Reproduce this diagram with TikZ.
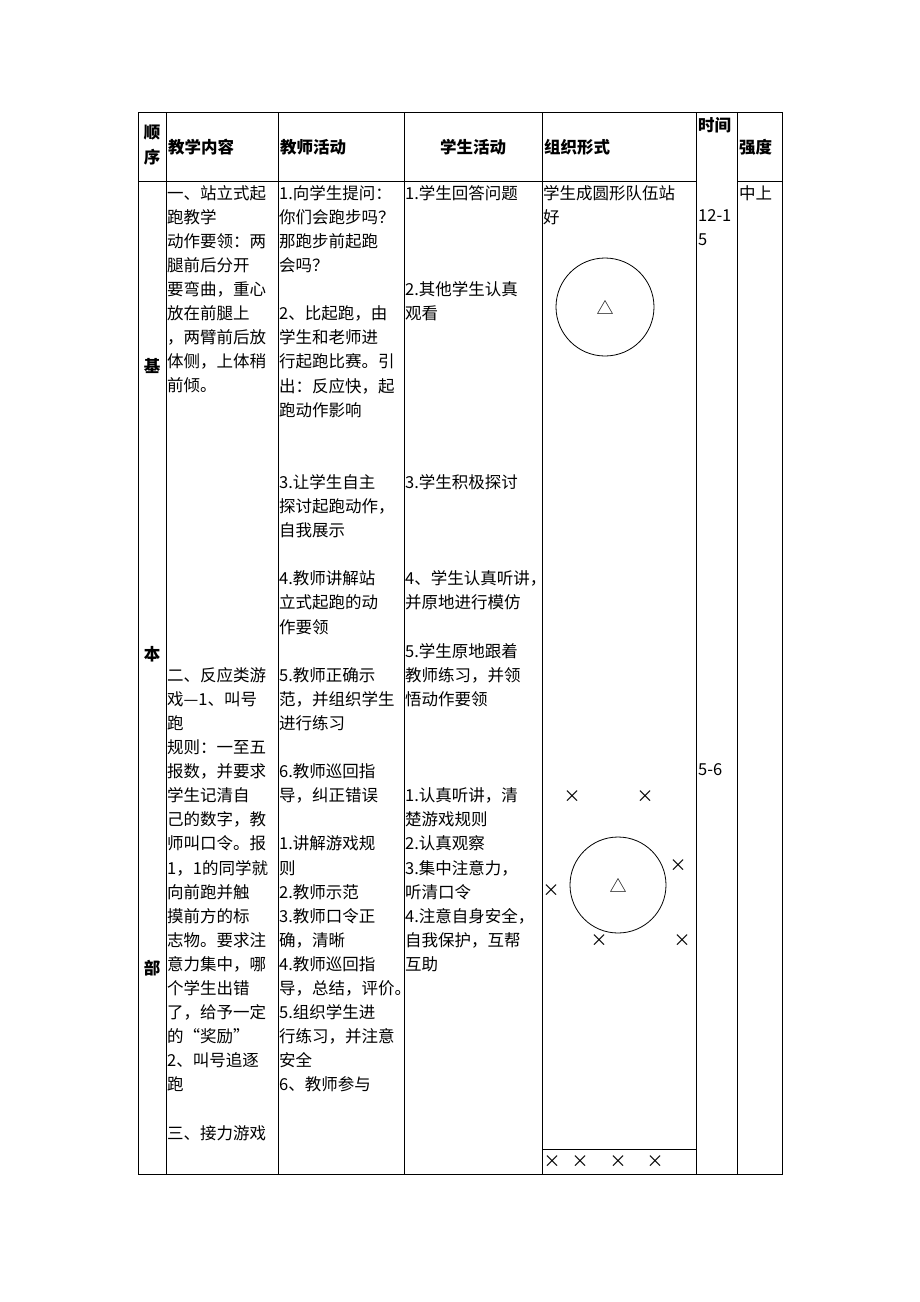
\documentclass[tikz,border=0pt]{standalone}
\usepackage{fontspec}
\setmainfont{Noto Sans CJK SC}
\tikzset{cell/.style={anchor=north west,inner sep=0pt,align=left,font=\fontsize{16.5}{24.1}\selectfont},
  head/.style={inner sep=0pt,font=\fontsize{16.5}{24.1}\selectfont\bfseries},
  grid line/.style={line width=1pt},
  mark x/.style={inner sep=0pt,font=\fontsize{17}{20}\selectfont},
}
\newcommand{\bl}{\mbox{}}
\begin{document}
\begin{tikzpicture}[x=1pt,y=-1pt]
\useasboundingbox (0,0) rectangle (920,1302);
% frame and columns
\draw[grid line] (138,112) rectangle (782,1174);
\foreach \cx in {166,278,404,542,696,737}
  \draw[grid line] (\cx,112) -- (\cx,1174);
\draw[grid line] (138,181) -- (696,181);
\draw[grid line] (737,181) -- (782,181);
\draw[grid line] (542,1149) -- (696,1149);
% header
\node[head] (h1) at (152,133) {顺};
\node[head] (h1b) at (152,157) {序};
\node[head,anchor=west] (h2) at (168,147) {教学内容};
\node[head,anchor=west] (h3) at (280,147) {教师活动};
\node[head] (h4) at (473,147) {学生活动};
\node[head,anchor=west] (h5) at (544,147) {组织形式};
\node[head,anchor=west] (h6) at (698,125) {时间};
\node[head,anchor=west] (h7) at (739,147) {强度};
% first column
\node[head] (s1) at (152,366) {基};
\node[head] (s2) at (152,654) {本};
\node[head] (s3) at (152,968) {部};
% teaching content
\node[cell] (c2) at (167,185) {一、站立式起\\跑教学\\动作要领：两\\腿前后分开\\要弯曲，重心\\放在前腿上\\，两臂前后放\\体侧，上体稍\\前倾。};
\node[cell] (c2b) at (167,667) {二、反应类游\\戏---1、叫号\\跑\\规则：一至五\\报数，并要求\\学生记清自\\己的数字，教\\师叫口令。报\\1，1的同学就\\向前跑并触\\摸前方的标\\志物。要求注\\意力集中，哪\\个学生出错\\了，给予一定\\的“奖励”\\2、叫号追逐\\跑\\\bl\\三、接力游戏};
% teacher
\node[cell] (c3) at (279,185) {1.向学生提问：\\你们会跑步吗？\\那跑步前起跑\\会吗？\\\bl\\2、比起跑，由\\学生和老师进\\行起跑比赛。引\\出：反应快，起\\跑动作影响\\\bl\\\bl\\3.让学生自主\\探讨起跑动作，\\自我展示\\\bl\\4.教师讲解站\\立式起跑的动\\作要领\\\bl\\5.教师正确示\\范，并组织学生\\进行练习\\\bl\\6.教师巡回指\\导，纠正错误\\\bl\\1.讲解游戏规\\则\\2.教师示范\\3.教师口令正\\确，清晰\\4.教师巡回指\\导，总结，评价。\\5.组织学生进\\行练习，并注意\\安全\\6、教师参与};
% students
\node[cell] (c4) at (405,185) {1.学生回答问题\\\bl\\\bl\\\bl\\2.其他学生认真\\观看\\\bl\\\bl\\\bl\\\bl\\\bl\\\bl\\3.学生积极探讨\\\bl\\\bl\\\bl\\4、学生认真听讲，\\并原地进行模仿\\\bl\\5.学生原地跟着\\教师练习，并领\\悟动作要领\\\bl\\\bl\\\bl\\1.认真听讲，清\\楚游戏规则\\2.认真观察\\3.集中注意力，\\听清口令\\4.注意自身安全，\\自我保护，互帮\\互助};
% organisation
\node[cell] (c5) at (543,185) {学生成圆形队伍站\\好};
\node[circle,draw,line width=0.8pt,minimum size=98pt] (ring1) at (605,307) {};
\node[inner sep=0pt,font=\fontsize{17}{20}\selectfont] (t1) at (ring1) {△};
\node[circle,draw,line width=0.8pt,minimum size=96pt] (ring2) at (618,885) {};
\node[inner sep=0pt,font=\fontsize{17}{20}\selectfont] (t2) at (ring2) {△};
\foreach \mx/\my [count=\i] in {572/797,645/797,678/866,551/891,599/941,682/941,552/1162,580/1162,618/1162,655/1162}
  \node[mark x] (x\i) at (\mx,\my) {×};
% time and intensity
\node[cell] (c6) at (698,209) {12-1\\5};
\node[cell] (c6b) at (698,763) {5-6};
\node[cell] (c7) at (739,185) {中上};
\end{tikzpicture}
\end{document}
